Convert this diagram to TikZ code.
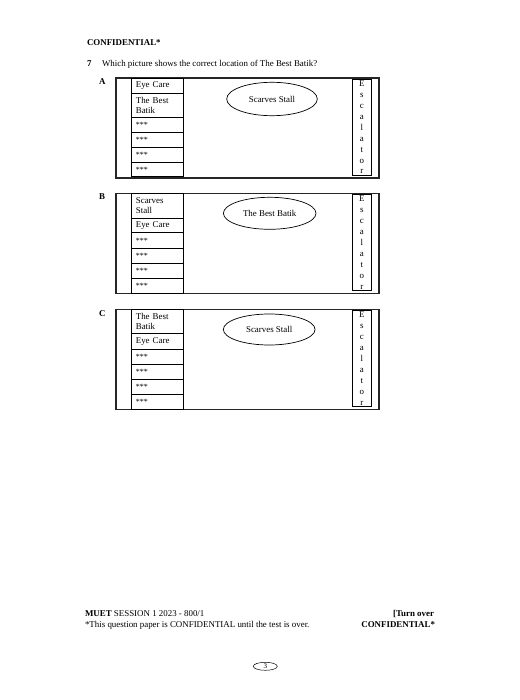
\documentclass[tikz,border=0pt]{standalone}
\usepackage{fontspec}
\setmainfont{Liberation Serif}
\usetikzlibrary{shapes.geometric}
\tikzset{
  every node/.style={outer sep=0pt},
  txt/.style={inner sep=0pt, font=\fontsize{8.9}{10.5}\selectfont},
  boldtxt/.style={inner sep=0pt, font=\fontsize{8.9}{10.5}\selectfont\bfseries},
  frame/.style={draw=black!85, line width=1.3pt, rectangle, anchor=north west, minimum width=263pt, minimum height=100pt, inner sep=0pt},
  cell/.style={draw, line width=0.7pt, rectangle, anchor=north west, minimum width=51.3pt, text width=43pt, align=left, inner xsep=4pt, inner ysep=0pt, font=\fontsize{8.9}{10.2}\selectfont},
  stars/.style={cell, minimum height=14.8pt, font=\fontsize{8}{8}\selectfont},
  esc/.style={draw, line width=0.8pt, rectangle, anchor=north west, minimum width=19.5pt, minimum height=96.5pt, align=center, inner sep=0pt, font=\fontsize{8.9}{10.95}\selectfont},
  stall/.style={draw, line width=0.7pt, ellipse, inner sep=0pt, font=\fontsize{8.9}{10.5}\selectfont},
  pagenum/.style={draw, line width=0.5pt, ellipse, inner sep=0pt, minimum width=24pt, minimum height=8pt, font=\fontsize{7}{8}\selectfont},
}
\newcommand{\stx}{\raisebox{-1.8pt}{***}}
\begin{document}
\begin{tikzpicture}[x=1pt,y=-1pt]
\useasboundingbox (0,0) rectangle (519,700);
% header
\node[boldtxt, anchor=base west] (conf) at (87,46) {CONFIDENTIAL*};
\node[boldtxt, anchor=base west] (qnum) at (87,67) {7};
\node[txt, anchor=base west] (q) at (102,67) {Which picture shows the correct location of The Best Batik?};

% ---------------- A ----------------
\node[boldtxt, anchor=base west] (labA) at (99,85) {A};
\node[frame] (frA) at (116,78) {};
\node[cell, minimum height=15.3pt] (a1) at (131.7,78) {Eye Care};
\node[cell, minimum height=24.4pt] (a2) at (a1.south west) {The Best\\Batik};
\node[stars] (a3) at (a2.south west) {\stx};
\node[stars] (a4) at (a3.south west) {\stx};
\node[stars] (a5) at (a4.south west) {\stx};
\node[stars, minimum height=14.7pt] (a6) at (a5.south west) {\stx};
\node[esc] (escA) at (352,79) {E\\s\\c\\a\\l\\a\\t\\o\\r};
\node[stall, minimum width=90.6pt, minimum height=33.4pt] (stA) at (272,99) {Scarves Stall};

% ---------------- B ----------------
\node[boldtxt, anchor=base west] (labB) at (99,200) {B};
\node[frame] (frB) at (116,193.3) {};
\node[cell, minimum height=25pt] (b1) at (131.7,193.3) {Scarves\\Stall};
\node[cell, minimum height=14.4pt] (b2) at (b1.south west) {Eye Care};
\node[stars, minimum height=15.6pt] (b3) at (b2.south west) {\stx};
\node[stars, minimum height=15pt] (b4) at (b3.south west) {\stx};
\node[stars, minimum height=15pt] (b5) at (b4.south west) {\stx};
\node[stars, minimum height=15pt] (b6) at (b5.south west) {\stx};
\node[esc] (escB) at (352,194.3) {E\\s\\c\\a\\l\\a\\t\\o\\r};
\node[stall, minimum width=92.6pt, minimum height=32pt] (stB) at (269.7,213.3) {The Best Batik};

% ---------------- C ----------------
\node[boldtxt, anchor=base west] (labC) at (99,316) {C};
\node[frame] (frC) at (116,309.3) {};
\node[cell, minimum height=24pt] (c1) at (131.7,309.3) {The Best\\Batik};
\node[cell, minimum height=15.7pt] (c2) at (c1.south west) {Eye Care};
\node[stars, minimum height=15pt] (c3) at (c2.south west) {\stx};
\node[stars, minimum height=15.3pt] (c4) at (c3.south west) {\stx};
\node[stars, minimum height=15pt] (c5) at (c4.south west) {\stx};
\node[stars, minimum height=15pt] (c6) at (c5.south west) {\stx};
\node[esc] (escC) at (352,310.3) {E\\s\\c\\a\\l\\a\\t\\o\\r};
\node[stall, minimum width=91.7pt, minimum height=31pt] (stC) at (269.2,329.5) {Scarves Stall};

% ---------------- footer ----------------
\node[txt, anchor=base west] (f1) at (85,616) {\textbf{MUET} SESSION 1 2023 - 800/1};
\node[txt, anchor=base west] (f2) at (85,627) {*This question paper is CONFIDENTIAL until the test is over.};
\node[boldtxt, anchor=base east] (f3) at (434,616) {[Turn over};
\node[boldtxt, anchor=base east] (f4) at (435,627) {CONFIDENTIAL*};
\node[pagenum] (pg) at (265.3,666.3) {3};
\end{tikzpicture}
\end{document}
